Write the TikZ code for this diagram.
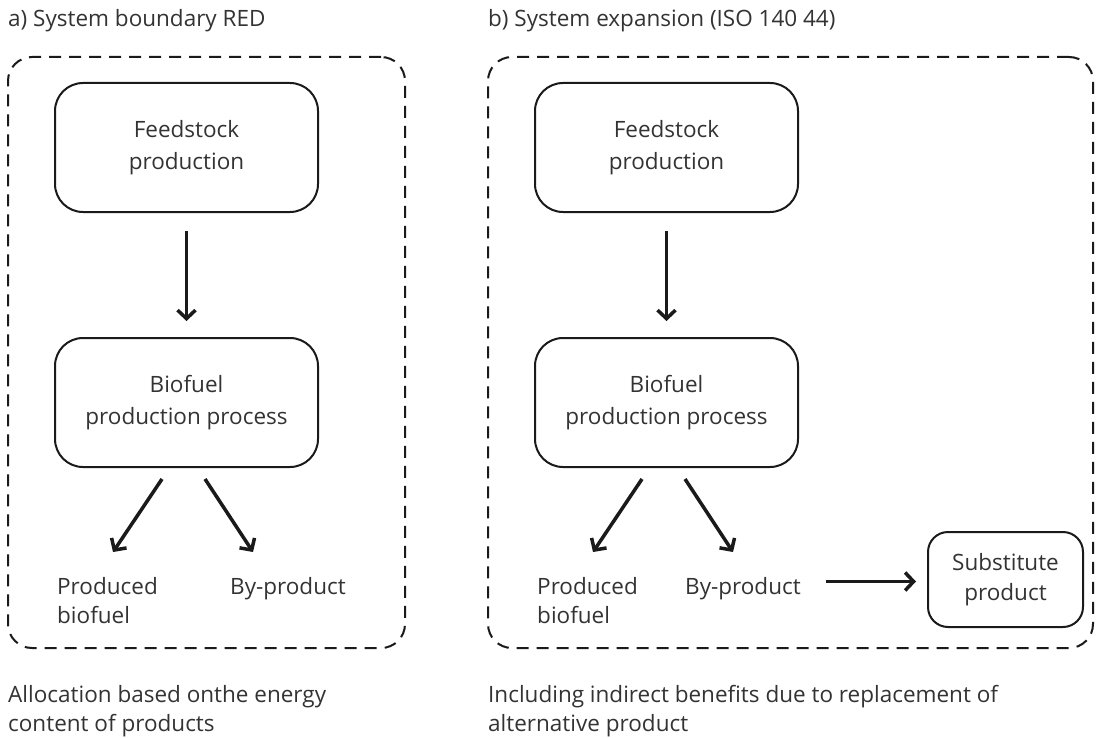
\documentclass[tikz,border=0pt]{standalone}
\usepackage{fontspec}
\setmainfont{Open Sans}
\usetikzlibrary{arrows.meta,calc}
\definecolor{txt}{HTML}{333333}
\definecolor{ln}{HTML}{1A1A1A}
\newcommand{\fsbox}{\fontsize{22.5}{32}\selectfont}
\newcommand{\fslab}{\fontsize{22.5}{29}\selectfont}
\begin{document}
\begin{tikzpicture}[x=1pt,y=-1pt,
  proc/.style={draw=ln, line width=2pt, rounded corners=28pt, minimum width=263pt, minimum height=129pt, align=center, font=\fsbox, text=txt, inner sep=0pt},
  subbox/.style={draw=ln, line width=2pt, rounded corners=20pt, minimum width=155pt, minimum height=95pt, align=center, font=\fontsize{22.5}{30}\selectfont, text=txt, inner sep=0pt},
  frame/.style={draw=ln, line width=2pt, dash pattern=on 12pt off 8pt, rounded corners=24pt, inner sep=0pt},
  lab/.style={font=\fslab, text=txt, align=left, inner sep=0pt, anchor=north west},
  title/.style={font=\fslab, text=txt, inner sep=0pt, anchor=base west},
  arr/.style={draw=ln, line width=3.5pt, -{Straight Barb[length=8.5pt,width=18pt,line width=3.5pt]}}
]
\useasboundingbox (0,0) rectangle (1097,738);
\fill[white] (0,0) rectangle (1097,738);

% titles
\node[title] (tA) at (8,27) {a) System boundary RED};
\node[title] (tB) at (488,27) {b) System expansion (ISO 140 44)};

% frames
\node[frame, minimum width=397pt, minimum height=591pt] (frA) at (206.5,352.5) {};
\node[frame, minimum width=605pt, minimum height=591pt] (frB) at (790.5,352.5) {};

% left system
\node[proc] (feedL) at (186.5,147.5) {Feedstock\\production};
\node[proc] (bioL) at (186.5,402.5) {Biofuel\\production process};
\node[lab] (prodL) at (57,577) {Produced\\biofuel};
\node[lab] (byL) at (230,577) {By-product};

% right system
\node[proc] (feedR) at (666.5,147.5) {Feedstock\\production};
\node[proc] (bioR) at (666.5,402.5) {Biofuel\\production process};
\node[lab] (prodR) at (537,577) {Produced\\biofuel};
\node[lab] (byR) at (685,577) {By-product};
\node[subbox] (subst) at (1005.5,579.5) {Substitute\\product};

% arrows
\draw[arr, shorten <=18pt, shorten >=16pt] (feedL) -- (bioL);
\draw[arr] ([shift={(-24.5,11)}]bioL.south) -- ([shift={(56,-25)}]prodL.north west);
\draw[arr] ([shift={(18.5,11)}]bioL.south) -- ([shift={(23,-25)}]byL.north west);

\draw[arr, shorten <=18pt, shorten >=16pt] (feedR) -- (bioR);
\draw[arr] ([shift={(-24.5,11)}]bioR.south) -- ([shift={(56,-25)}]prodR.north west);
\draw[arr] ([shift={(18.5,11)}]bioR.south) -- ([shift={(48,-25)}]byR.north west);
\draw[arr] ($(byR.east |- subst.west)+(25,2)$) -- ([shift={(-11,2)}]subst.west);

% captions
\node[lab] (capA) at (8,685) {Allocation based onthe energy\\content of products};
\node[lab] (capB) at (488,685) {Including indirect benefits due to replacement of\\alternative product};
\end{tikzpicture}
\end{document}
